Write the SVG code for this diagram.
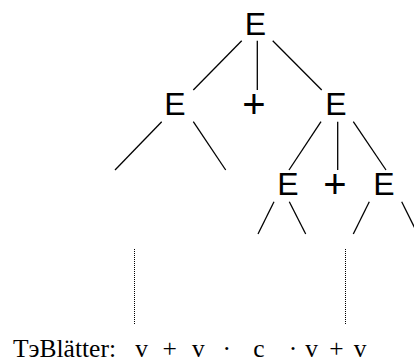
<svg xmlns="http://www.w3.org/2000/svg" width="414" height="362" viewBox="0 0 414 362">
<style>
.sym{font-family:"Liberation Sans",Arial,sans-serif;font-size:32px;fill:#000;text-anchor:middle}
.op{font-size:40px}
.edge{stroke:#000;stroke-width:1.3;fill:none}
.dot{stroke:#000;stroke-width:1;stroke-dasharray:1 1;fill:none}
.leaf{font-family:"Liberation Serif","Times New Roman",serif;font-size:25.5px;fill:#000}
</style>
<rect width="414" height="362" fill="#fff"/>
<g id="connectors">
<line class="edge" x1="241.7" y1="40.7" x2="193.3" y2="90"/>
<line class="edge" x1="257.3" y1="40.7" x2="257.3" y2="90"/>
<line class="edge" x1="272.7" y1="40.7" x2="321.7" y2="90"/>
<line class="edge" x1="161.7" y1="121.7" x2="115" y2="170"/>
<line class="edge" x1="193.3" y1="121.7" x2="225.7" y2="170"/>
<line class="edge" x1="321" y1="121.7" x2="289" y2="170"/>
<line class="edge" x1="337.7" y1="121.7" x2="337.7" y2="170"/>
<line class="edge" x1="353.3" y1="121.7" x2="386" y2="170"/>
<line class="edge" x1="274" y1="201.7" x2="258" y2="234"/>
<line class="edge" x1="289.3" y1="201.7" x2="305.7" y2="234"/>
<line class="edge" x1="369.3" y1="201.7" x2="353.3" y2="234"/>
<line class="edge" x1="401.7" y1="201.7" x2="417.7" y2="234"/>
<line class="dot" x1="134.5" y1="249" x2="134.5" y2="324"/>
<line class="dot" x1="345.5" y1="249" x2="345.5" y2="324"/>
</g>
<g id="n-root"><text class="sym" x="255.5" y="35">E</text></g>
<g id="n-E1"><text class="sym" x="175" y="115">E</text></g>
<g id="n-plus1"><text class="sym op" x="254" y="118">+</text></g>
<g id="n-E2"><text class="sym" x="336" y="115">E</text></g>
<g id="n-E3"><text class="sym" x="288" y="195">E</text></g>
<g id="n-plus2"><text class="sym op" x="335" y="198">+</text></g>
<g id="n-E4"><text class="sym" x="384" y="195">E</text></g>
<g id="leaves">
<text class="leaf" y="357"><tspan x="13">TэBlätter:</tspan><tspan x="141.7" text-anchor="middle">v</tspan><tspan x="169.7" text-anchor="middle">+</tspan><tspan x="198.3" text-anchor="middle">v</tspan><tspan x="226.7" text-anchor="middle">·</tspan><tspan x="259" text-anchor="middle">c</tspan><tspan x="293" text-anchor="middle">·</tspan><tspan x="311.5" text-anchor="middle">v</tspan><tspan x="336.5" text-anchor="middle">+</tspan><tspan x="360" text-anchor="middle">v</tspan></text>
</g>
</svg>
